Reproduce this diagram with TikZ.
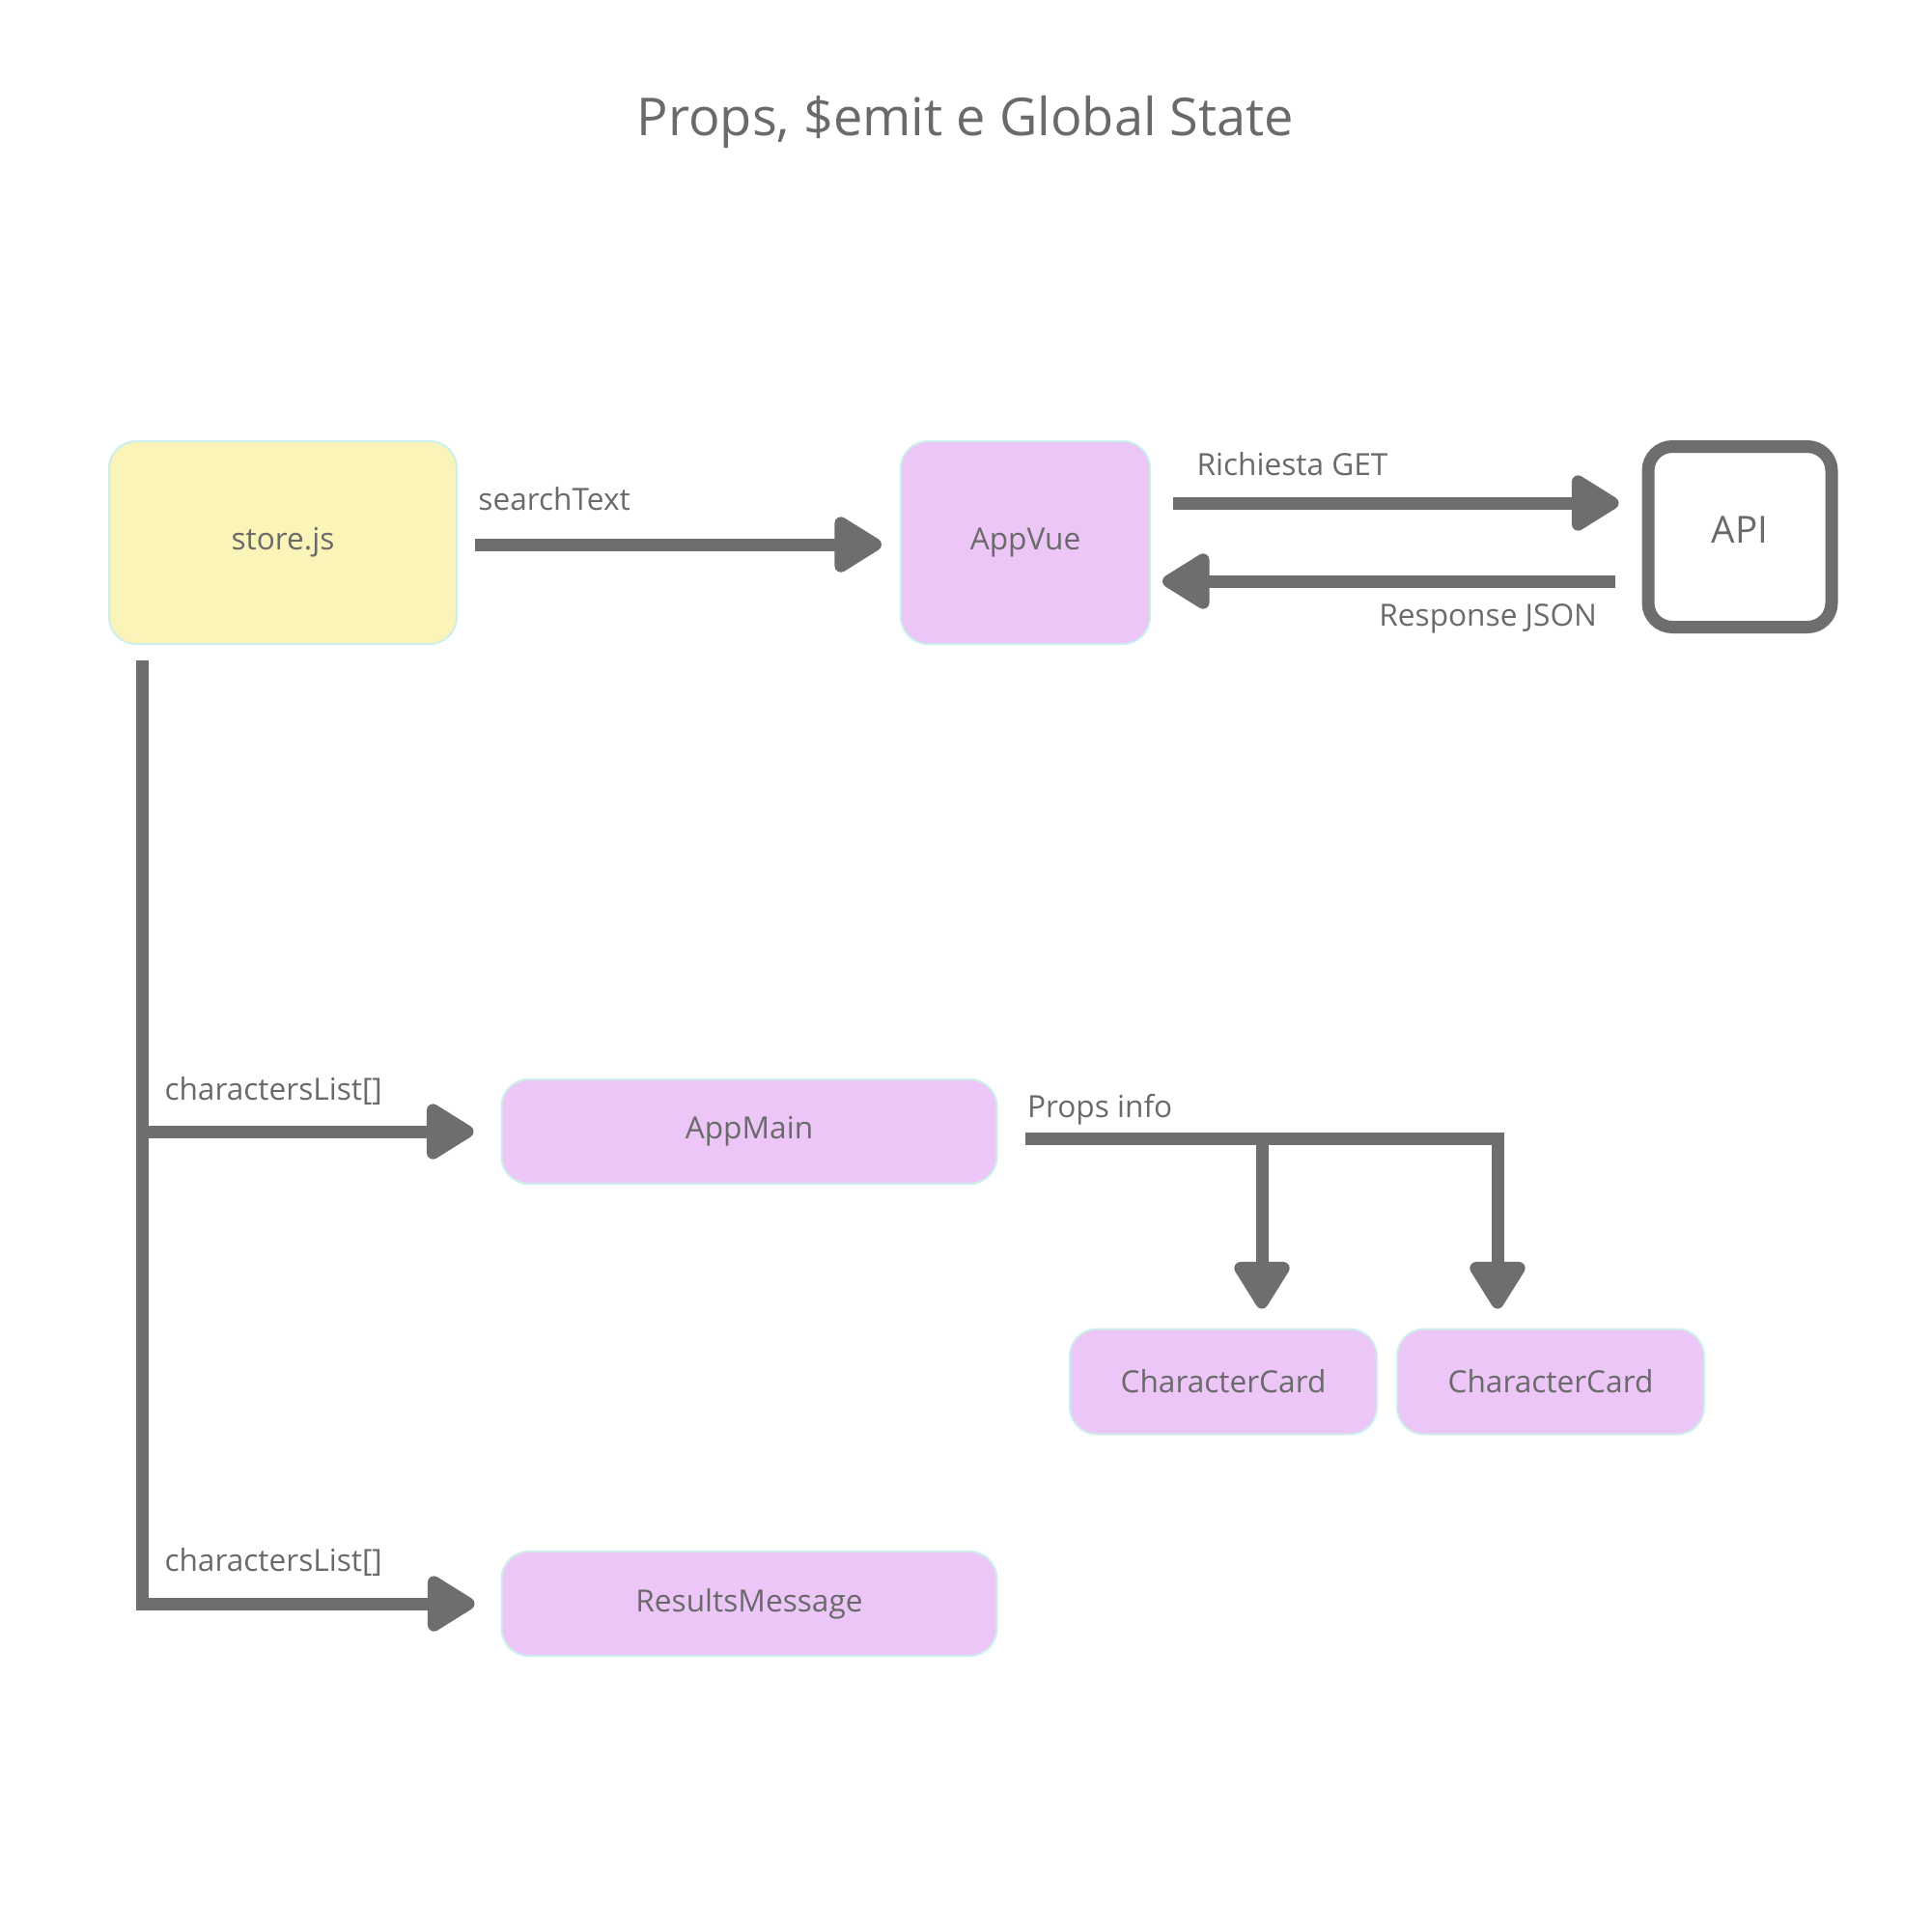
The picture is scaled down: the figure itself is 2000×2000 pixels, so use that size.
\documentclass[tikz,border=0pt]{standalone}
\usepackage{fontspec}
\setmainfont{Open Sans}
\usetikzlibrary{arrows.meta,calc}
\definecolor{linegray}{HTML}{6E6E6E}
\definecolor{txtgray}{HTML}{6A6A6A}
\definecolor{yel}{HTML}{FAF4B9}
\definecolor{pinkfill}{HTML}{ECC6F7}
\definecolor{edgecyan}{HTML}{CDEFEC}
\begin{document}
\begin{tikzpicture}[x=0.1mm,y=-0.1mm,
  box/.style={draw=edgecyan, line width=0.2mm, rounded corners=2.8mm, text=txtgray,
    font=\fontsize{9}{11}\selectfont, inner sep=0pt},
  lbl/.style={text=txtgray, font=\fontsize{9}{11}\selectfont, inner sep=0pt},
  arr/.style={draw=linegray, line width=1.3mm, -{Triangle[round, length=5.5mm,width=6.4mm]}},
  trunkline/.style={draw=linegray, line width=1.3mm}]
\useasboundingbox[fill=white] (0,0) rectangle (2000,2000);

\node[text=txtgray, font=\fontsize{15.4}{18}\selectfont, anchor=base] (title) at (1000,140) {Props, \$emit e Global State};

\node[box, fill=yel, minimum width=36mm, minimum height=21mm] (store) at (293,562) {\raisebox{-0.4mm}{store.js}};
\node[box, fill=pinkfill, minimum width=25.8mm, minimum height=21mm] (appvue) at (1062,562) {AppVue};
\node[draw=linegray, line width=1.3mm, rounded corners=2.5mm, fill=white, text=txtgray,
  font=\fontsize{11}{13}\selectfont, minimum width=19mm, minimum height=18.7mm, inner sep=0pt]
  (api) at (1802,556) {\raisebox{1.4mm}{API}};

\node[box, fill=pinkfill, minimum width=51.3mm, minimum height=10.8mm] (appmain) at (776,1172) {\raisebox{-0.3mm}{AppMain}};
\node[box, fill=pinkfill, minimum width=51.3mm, minimum height=10.8mm] (resmsg) at (776,1661) {\raisebox{-0.2mm}{ResultsMessage}};
\node[box, fill=pinkfill, minimum width=31.8mm, minimum height=10.9mm] (card1) at (1267,1431) {CharacterCard};
\node[box, fill=pinkfill, minimum width=31.8mm, minimum height=10.9mm] (card2) at (1606,1431) {CharacterCard};

% searchText
\draw[arr] ($(store.east)+(18,2)$) -- ($(appvue.west)+(-19,2)$)
  node[lbl, pos=0, anchor=base west, xshift=-0.3mm, yshift=3.6mm] {searchText};

% Richiesta GET
\draw[arr] ($(appvue.east)+(23,-41)$) -- ($(api.west)+(-24,-35)$)
  node[lbl, pos=0, anchor=base west, xshift=1.8mm, yshift=2.9mm] {Richiesta GET};

% Response JSON
\draw[arr] ($(api.west)+(-28,46)$) -- ($(appvue.east)+(12,40)$)
  node[lbl, pos=0, anchor=base east, xshift=-1.2mm, yshift=-4.6mm] {Response JSON};

% trunk from store
\coordinate (trunk) at ($(store.south west)+(35,16)$);
\draw[arr] (trunk) |- ($(resmsg.west)+(-27,0)$)
  node[lbl, pos=0.5, anchor=base west, xshift=1.7mm, yshift=3.4mm] {charactersList[]};
\draw[arr] (trunk |- appmain.west) -- ($(appmain.west)+(-28,0)$)
  node[lbl, pos=0, anchor=base west, xshift=1.7mm, yshift=3.3mm] {charactersList[]};

% Props info
\coordinate (pstart) at ($(appmain.east)+(28,7)$);
\coordinate (c1tip) at ($(card1.north)+(40,-20)$);
\coordinate (c2tip) at ($(card2.north)+(-55,-20)$);
\draw[arr] (pstart) -| (c2tip)
  node[lbl, pos=0, anchor=base west, xshift=-0.4mm, yshift=2.2mm] {Props info};
\draw[arr] (c1tip |- pstart) -- (c1tip);
\end{tikzpicture}
\end{document}
